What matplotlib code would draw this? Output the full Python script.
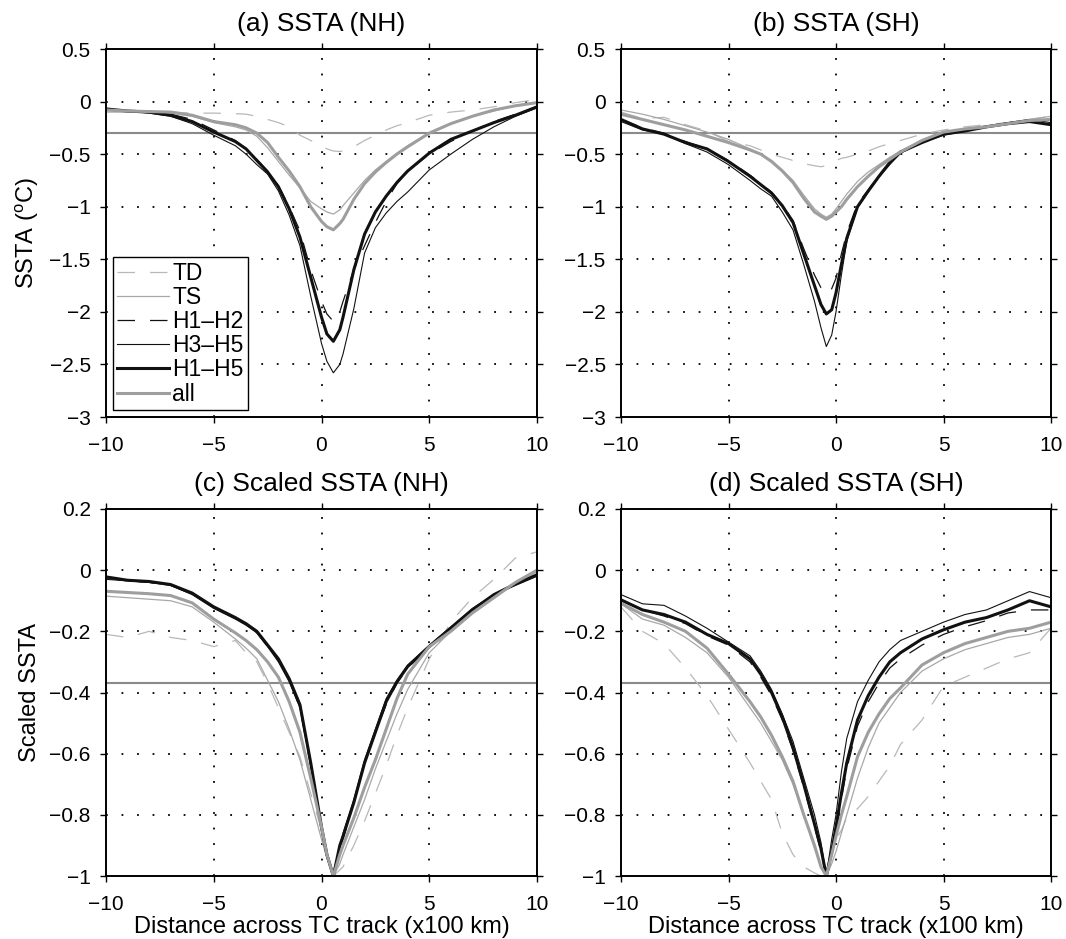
import numpy as np
import matplotlib
matplotlib.use("Agg")
import matplotlib.pyplot as plt
from matplotlib.ticker import FuncFormatter

plt.rcParams['font.family'] = ['Liberation Sans', 'DejaVu Sans']
plt.rcParams['mathtext.fontset'] = 'custom'
plt.rcParams['mathtext.rm'] = 'Liberation Sans'
plt.rcParams['mathtext.it'] = 'Liberation Sans:italic'

# ---------------- data ----------------
series_names = ["TD", "TS", "H1\u2013H2", "H3\u2013H5", "H1\u2013H5", "all"]

x_nh = [-10, -9, -8, -7, -6, -5, -4, -3.5, -3, -2.5, -2, -1.5, -1, -0.5, 0, 0.25, 0.55, 0.85,
        1, 1.5, 2, 2.5, 3, 3.5, 4, 5, 6, 7, 8, 9, 10]
x_sh = [-10, -9, -8, -7, -6, -5, -4, -3.5, -3, -2.5, -2, -1.5, -1, -0.7, -0.45, -0.2, 0, 0.25,
        0.5, 1, 1.5, 2, 2.5, 3, 4, 5, 6, 7, 8, 9, 10]

# (a) SSTA NH
a_td = [-0.08, -0.09, -0.10, -0.10, -0.11, -0.11, -0.115, -0.12, -0.14, -0.17, -0.20, -0.24, -0.32, -0.37, -0.43, -0.45, -0.47, -0.475,
        -0.47, -0.43, -0.37, -0.32, -0.27, -0.23, -0.20, -0.13, -0.10, -0.08, -0.05, -0.01, 0.02]
a_ts = [-0.10, -0.10, -0.10, -0.11, -0.14, -0.20, -0.24, -0.27, -0.33, -0.44, -0.57, -0.70, -0.82, -0.95, -1.02, -1.05, -1.07, -1.03,
        -0.99, -0.87, -0.75, -0.65, -0.57, -0.49, -0.42, -0.30, -0.21, -0.14, -0.09, -0.04, -0.01]
a_h12 = [-0.07, -0.09, -0.10, -0.12, -0.17, -0.27, -0.37, -0.45, -0.55, -0.66, -0.80, -1.00, -1.23, -1.60, -1.90, -2.02, -2.09, -2.00,
         -1.90, -1.60, -1.37, -1.15, -0.95, -0.78, -0.66, -0.50, -0.38, -0.28, -0.19, -0.12, -0.05]
a_h35 = [-0.07, -0.09, -0.11, -0.14, -0.21, -0.32, -0.42, -0.50, -0.60, -0.69, -0.85, -1.08, -1.37, -1.85, -2.30, -2.47, -2.58, -2.50,
         -2.40, -1.97, -1.44, -1.20, -1.06, -0.95, -0.86, -0.65, -0.50, -0.36, -0.24, -0.14, -0.06]
a_h15 = [-0.07, -0.09, -0.10, -0.13, -0.19, -0.29, -0.38, -0.45, -0.56, -0.67, -0.81, -1.02, -1.29, -1.67, -2.05, -2.21, -2.28, -2.17,
         -2.05, -1.60, -1.26, -1.05, -0.90, -0.77, -0.66, -0.49, -0.36, -0.28, -0.20, -0.13, -0.05]
a_all = [-0.08, -0.09, -0.095, -0.10, -0.13, -0.19, -0.22, -0.25, -0.30, -0.39, -0.53, -0.66, -0.81, -1.00, -1.14, -1.19, -1.22, -1.16,
         -1.12, -0.93, -0.78, -0.67, -0.58, -0.50, -0.43, -0.30, -0.21, -0.14, -0.08, -0.04, -0.01]

# (b) SSTA SH
b_td = [-0.10, -0.16, -0.15, -0.22, -0.28, -0.38, -0.42, -0.46, -0.50, -0.53, -0.56, -0.59, -0.61, -0.62, -0.61, -0.58, -0.56, -0.54,
        -0.53, -0.50, -0.47, -0.43, -0.40, -0.37, -0.31, -0.27, -0.24, -0.22, -0.20, -0.17, -0.14]
b_ts = [-0.08, -0.12, -0.17, -0.23, -0.29, -0.36, -0.45, -0.50, -0.56, -0.65, -0.75, -0.89, -1.02, -1.07, -1.10, -1.07, -1.02, -0.95,
        -0.88, -0.76, -0.67, -0.60, -0.53, -0.47, -0.37, -0.29, -0.26, -0.23, -0.20, -0.17, -0.14]
b_h12 = [-0.17, -0.25, -0.30, -0.38, -0.45, -0.56, -0.70, -0.78, -0.86, -0.98, -1.13, -1.40, -1.65, -1.77, -1.83, -1.78, -1.68, -1.45,
         -1.25, -0.97, -0.84, -0.70, -0.58, -0.48, -0.38, -0.31, -0.28, -0.24, -0.21, -0.19, -0.22]
b_h35 = [-0.19, -0.27, -0.31, -0.40, -0.48, -0.60, -0.75, -0.83, -0.90, -1.05, -1.22, -1.55, -1.90, -2.15, -2.33, -2.22, -2.00, -1.65,
         -1.33, -1.01, -0.86, -0.72, -0.60, -0.49, -0.39, -0.32, -0.28, -0.24, -0.20, -0.17, -0.20]
b_h15 = [-0.17, -0.26, -0.31, -0.39, -0.45, -0.57, -0.71, -0.79, -0.87, -0.99, -1.15, -1.45, -1.75, -1.93, -2.02, -1.98, -1.82, -1.55,
         -1.30, -1.00, -0.85, -0.71, -0.58, -0.48, -0.39, -0.31, -0.28, -0.24, -0.21, -0.19, -0.22]
b_all = [-0.12, -0.17, -0.22, -0.27, -0.33, -0.39, -0.46, -0.50, -0.57, -0.66, -0.77, -0.92, -1.05, -1.09, -1.12, -1.09, -1.05, -1.00,
         -0.93, -0.81, -0.71, -0.62, -0.55, -0.48, -0.37, -0.29, -0.26, -0.24, -0.21, -0.18, -0.17]

# (c) scaled SSTA NH
c_td = [-0.21, -0.22, -0.20, -0.22, -0.23, -0.25, -0.23, -0.27, -0.30, -0.37, -0.45, -0.53, -0.61, -0.73, -0.85, -0.93, -1.00, -0.98,
        -0.97, -0.90, -0.82, -0.73, -0.64, -0.54, -0.45, -0.29, -0.17, -0.09, -0.03, 0.04, 0.06]
c_ts = [-0.085, -0.09, -0.095, -0.10, -0.12, -0.17, -0.225, -0.255, -0.29, -0.36, -0.43, -0.52, -0.62, -0.75, -0.88, -0.94, -1.00, -0.96,
        -0.93, -0.84, -0.75, -0.65, -0.56, -0.47, -0.39, -0.27, -0.20, -0.14, -0.09, -0.04, -0.005]
c_h12 = [-0.025, -0.035, -0.04, -0.05, -0.078, -0.12, -0.155, -0.178, -0.205, -0.25, -0.295, -0.36, -0.45, -0.64, -0.85, -0.93, -1.00, -0.91,
         -0.88, -0.76, -0.63, -0.53, -0.44, -0.37, -0.32, -0.25, -0.19, -0.13, -0.08, -0.045, -0.02]
c_h35 = [-0.03, -0.035, -0.04, -0.05, -0.08, -0.125, -0.16, -0.18, -0.205, -0.25, -0.30, -0.365, -0.45, -0.64, -0.85, -0.94, -1.00, -0.90,
         -0.86, -0.75, -0.62, -0.52, -0.42, -0.36, -0.31, -0.245, -0.185, -0.125, -0.08, -0.05, -0.02]
c_h15 = [-0.022, -0.033, -0.037, -0.047, -0.075, -0.12, -0.155, -0.175, -0.20, -0.245, -0.29, -0.355, -0.44, -0.63, -0.84, -0.93, -1.00, -0.90,
         -0.87, -0.76, -0.63, -0.53, -0.43, -0.365, -0.315, -0.25, -0.19, -0.13, -0.08, -0.045, -0.015]
c_all = [-0.069, -0.073, -0.077, -0.083, -0.107, -0.16, -0.205, -0.23, -0.26, -0.30, -0.35, -0.43, -0.53, -0.68, -0.84, -0.93, -1.00, -0.93,
         -0.90, -0.81, -0.71, -0.62, -0.52, -0.42, -0.34, -0.25, -0.20, -0.14, -0.09, -0.04, 0.0]

# (d) scaled SSTA SH
d_td = [-0.12, -0.20, -0.24, -0.32, -0.41, -0.52, -0.63, -0.69, -0.75, -0.86, -0.93, -0.97, -0.99, -1.00, -1.00, -0.92, -0.88, -0.85,
        -0.81, -0.78, -0.74, -0.69, -0.64, -0.57, -0.49, -0.38, -0.35, -0.32, -0.29, -0.27, -0.19]
d_ts = [-0.11, -0.16, -0.18, -0.22, -0.27, -0.35, -0.45, -0.50, -0.56, -0.62, -0.70, -0.80, -0.91, -0.97, -1.00, -0.96, -0.92, -0.86,
        -0.80, -0.68, -0.58, -0.50, -0.45, -0.40, -0.33, -0.29, -0.26, -0.24, -0.22, -0.21, -0.19]
d_h12 = [-0.10, -0.13, -0.15, -0.175, -0.215, -0.245, -0.30, -0.35, -0.41, -0.49, -0.59, -0.71, -0.84, -0.92, -1.00, -0.93, -0.86, -0.75,
         -0.65, -0.51, -0.43, -0.37, -0.32, -0.29, -0.245, -0.21, -0.185, -0.165, -0.14, -0.13, -0.13]
d_h35 = [-0.08, -0.11, -0.115, -0.15, -0.19, -0.235, -0.28, -0.33, -0.39, -0.47, -0.56, -0.68, -0.80, -0.89, -1.00, -0.88, -0.80, -0.66,
         -0.55, -0.43, -0.36, -0.30, -0.26, -0.23, -0.20, -0.17, -0.145, -0.13, -0.10, -0.07, -0.09]
d_h15 = [-0.097, -0.13, -0.145, -0.17, -0.21, -0.24, -0.29, -0.34, -0.40, -0.48, -0.58, -0.70, -0.83, -0.91, -1.00, -0.92, -0.84, -0.73,
         -0.63, -0.49, -0.41, -0.35, -0.30, -0.27, -0.225, -0.195, -0.17, -0.155, -0.13, -0.10, -0.12]
d_all = [-0.108, -0.145, -0.17, -0.20, -0.255, -0.34, -0.43, -0.48, -0.54, -0.61, -0.69, -0.80, -0.90, -0.97, -1.00, -0.93, -0.87, -0.80,
         -0.74, -0.61, -0.53, -0.47, -0.42, -0.385, -0.31, -0.27, -0.24, -0.22, -0.20, -0.19, -0.17]

ref_ssta = -0.3
ref_scaled = -1 / np.e

titles = ["(a) SSTA (NH)", "(b) SSTA (SH)", "(c) Scaled SSTA (NH)", "(d) Scaled SSTA (SH)"]
xticks = [-10, -5, 0, 5, 10]
yticks_ssta = [0.5, 0, -0.5, -1, -1.5, -2, -2.5, -3]
yticks_scaled = [0.2, 0, -0.2, -0.4, -0.6, -0.8, -1]

# ---------------- style ----------------
styles = [
    dict(color='#b8b8b8', lw=0.9, ls=(0, (14, 12))),   # TD
    dict(color='#a8a8a8', lw=0.9, ls='-'),             # TS
    dict(color='#111111', lw=0.9, ls=(0, (14, 12))),   # H1-H2
    dict(color='#111111', lw=0.8, ls='-'),             # H3-H5
    dict(color='#111111', lw=2.2, ls='-'),             # H1-H5
    dict(color='#9e9e9e', lw=2.2, ls='-'),             # all
]

fig = plt.figure(figsize=(10.66, 9.39), dpi=100)
W, H = 1066, 939
rects = [
    [106 / W, 1 - 417 / H, 431 / W, 368 / H],
    [621 / W, 1 - 417 / H, 430 / W, 368 / H],
    [106 / W, 1 - 876 / H, 431 / W, 367 / H],
    [621 / W, 1 - 876 / H, 430 / W, 367 / H],
]

panels = [
    (x_nh, [a_td, a_ts, a_h12, a_h35, a_h15, a_all], ref_ssta, yticks_ssta, (-3, 0.5)),
    (x_sh, [b_td, b_ts, b_h12, b_h35, b_h15, b_all], ref_ssta, yticks_ssta, (-3, 0.5)),
    (x_nh, [c_td, c_ts, c_h12, c_h35, c_h15, c_all], ref_scaled, yticks_scaled, (-1, 0.2)),
    (x_sh, [d_td, d_ts, d_h12, d_h35, d_h15, d_all], ref_scaled, yticks_scaled, (-1, 0.2)),
]

fmt = FuncFormatter(lambda v, p: ('%g' % round(v, 3)).replace('-', '\u2212'))

for i, (rect, (xs, ys, ref, yt, ylim)) in enumerate(zip(rects, panels)):
    ax = fig.add_axes(rect)
    ax.grid(True, color='black', linestyle=(0, (1.0, 7.6)), linewidth=1.3, zorder=0)
    ax.set_axisbelow(True)
    ax.axhline(ref, color='#8a8a8a', lw=1.5, zorder=1)
    handles = []
    for name, y, st in zip(series_names, ys, styles):
        h, = ax.plot(xs, y, color=st['color'], lw=st['lw'], linestyle=st['ls'], label=name, zorder=2)
        handles.append(h)
    ax.set_xlim(-10, 10)
    ax.set_ylim(*ylim)
    ax.set_xticks(xticks)
    ax.set_yticks(yt)
    ax.xaxis.set_major_formatter(fmt)
    ax.yaxis.set_major_formatter(fmt)
    ax.tick_params(direction='out', length=4, width=1.0, labelsize=15, top=True, right=True,
                   labeltop=False, labelright=False)
    ax.tick_params(axis='x', pad=10)
    ax.tick_params(axis='y', pad=7)
    for sp in ax.spines.values():
        sp.set_linewidth(1.4)
    ax.set_title(titles[i], fontsize=19, pad=13)
    if i in (2, 3):
        ax.set_xlabel("Distance across TC track (x100 km)", fontsize=17, labelpad=1)
    if i == 0:
        ax.set_ylabel("SSTA ($^{\\mathrm{o}}$C)", fontsize=17, labelpad=6)
        leg = ax.legend(handles=handles, loc='lower left', fontsize=16.5, frameon=True, fancybox=False,
                        edgecolor='black', framealpha=1, borderpad=0.2, labelspacing=0.05,
                        handlelength=2.25, handletextpad=0.15, borderaxespad=0.3)
        leg.get_frame().set_linewidth(1.0)
    if i == 2:
        ax.set_ylabel("Scaled SSTA", fontsize=17, labelpad=6)

fig.savefig("out.png", dpi=100)
